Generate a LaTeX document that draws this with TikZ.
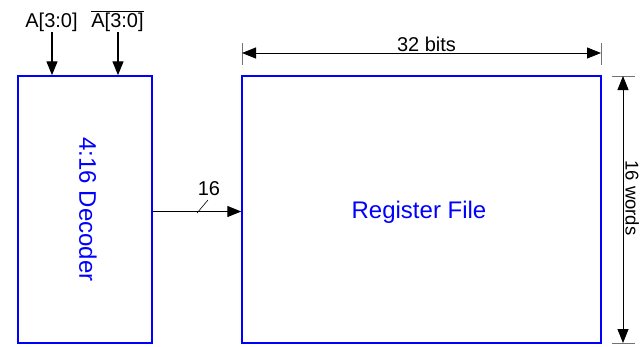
\documentclass[tikz,border=0pt]{standalone}
\usepackage{fontspec}
\setmainfont{Liberation Sans}
\usetikzlibrary{arrows.meta}
\begin{document}
\begin{tikzpicture}[x=1pt,y=-1pt,
  blk/.style={draw=blue,line width=1.5pt,inner sep=0pt},
  wire/.style={line width=1.3pt,-{Triangle[length=14pt,width=11pt]}},
  dim/.style={line width=0.8pt,{Triangle[length=14pt,width=11pt]}-{Triangle[length=14pt,width=11pt]}},
  tick/.style={line width=0.6pt,draw=black!55},
  lbl/.style={font=\fontsize{20}{24}\selectfont,inner sep=0pt},
  big/.style={font=\fontsize{24}{28}\selectfont,text=blue,inner sep=0pt}]
\useasboundingbox[fill=white] (0,0) rectangle (641,346);
% boxes
\node[blk,minimum width=134pt,minimum height=267pt] (dec) at (85,209.5) {};
\node[blk,minimum width=359pt,minimum height=267pt] (rf) at (421.5,209.5) {};
\node[big,rotate=-90] (dect) at (88,209.5) {4:16 Decoder};
\node[big,anchor=base] (rft) at (419,218) {Register File};
% inputs
\node[lbl,anchor=base] (a) at (51.5,27) {A[3:0]};
\node[lbl,anchor=base] (ab) at (117.5,27) {$\overline{\mbox{A[3:0]}}$};
\coordinate (a1) at (52,32);
\coordinate (a2) at (118,32);
\draw[wire] (a1) -- (a1 |- dec.north);
\draw[wire] (a2) -- (a2 |- dec.north);
% bus
\draw[wire] (dec.east |- 0,211.5) coordinate (bs) -- (rf.west |- 0,211.5) coordinate (be);
\coordinate (sl) at (202.5,206.5);
\draw[line width=0.6pt] ([shift={(-5.5,6.5)}]sl) -- ([shift={(5.5,-6.5)}]sl);
\node[lbl,anchor=base] (n16) at (209,195) {16};
% 32 bits
\coordinate (t1) at (242,43);
\coordinate (t2) at (601,43);
\draw[tick] (t1) -- ++(0,22);
\draw[tick] (t2) -- ++(0,22);
\draw[dim] (242,53) coordinate (d1) -- (601,53) coordinate (d2);
\node[lbl,anchor=base] (b32) at (426.5,51.5) {32 bits};
% 16 words
\draw[tick] (611.5,76) coordinate (h1) -- (635,76);
\draw[tick] (611.5,343) coordinate (h2) -- (635,343);
\draw[dim] (623,76) coordinate (v1) -- (623,343) coordinate (v2);
\node[lbl,font=\fontsize{18.5}{22}\selectfont,rotate=-90,anchor=base] (w16) at (625.5,198) {16 words};
\end{tikzpicture}
\end{document}
